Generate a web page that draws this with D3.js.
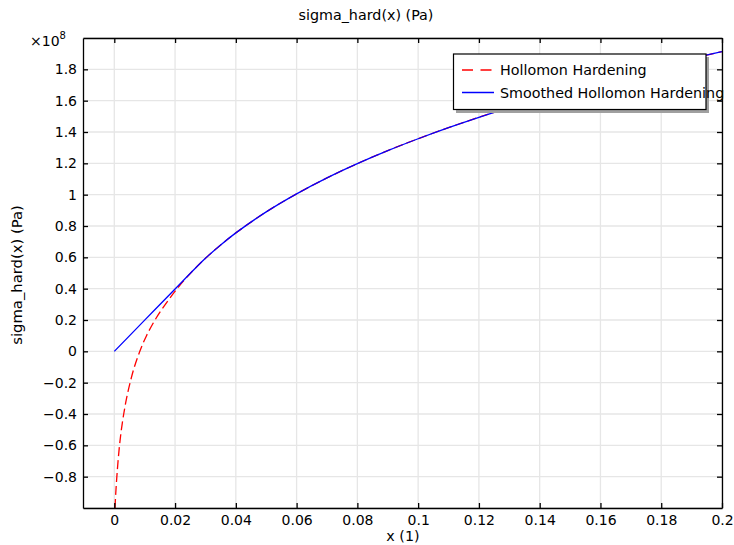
<!DOCTYPE html>
<html><head><meta charset="utf-8">
<script src="https://cdn.jsdelivr.net/npm/d3@7"></script>
<style>
body{margin:0;background:#fff;}
text{font-family:"DejaVu Sans",sans-serif;fill:#000;}
</style></head>
<body>
<svg id="c" width="734" height="545"></svg>
<script>
// x values (1) and sigma_hard values in units of 1e8 Pa
const hollomonX = [0.00023,0.0005,0.00084,0.00124,0.00172,0.00233,0.0031,0.00403,0.0052,0.0066,0.0084,0.0106,0.0134,0.0168,0.02066,0.025,0.03,0.035,0.04,0.05,0.06,0.07,0.08,0.09,0.1,0.11,0.12,0.13,0.14,0.15,0.16,0.17,0.18,0.19,0.2];
const hollomonY = [-1.0,-0.9,-0.8,-0.7,-0.6,-0.5,-0.4,-0.3,-0.2,-0.1,0.0,0.1,0.2,0.3,0.4,0.497,0.594,0.679,0.756,0.89,1.005,1.107,1.198,1.281,1.357,1.428,1.494,1.556,1.615,1.671,1.724,1.774,1.822,1.869,1.913];
const smoothX = [0,0.01,0.02,0.0265,0.03,0.035,0.04,0.05,0.06,0.07,0.08,0.09,0.1,0.11,0.12,0.13,0.14,0.15,0.16,0.17,0.18,0.19,0.2];
const smoothY = [0,0.199,0.398,0.527,0.594,0.679,0.756,0.89,1.005,1.107,1.198,1.281,1.357,1.428,1.494,1.556,1.615,1.671,1.724,1.774,1.822,1.869,1.913];
const xTicks = [0,0.02,0.04,0.06,0.08,0.1,0.12,0.14,0.16,0.18,0.2];
const yTicks = [-0.8,-0.6,-0.4,-0.2,0,0.2,0.4,0.6,0.8,1,1.2,1.4,1.6,1.8];
const yGrid = [-1,-0.8,-0.6,-0.4,-0.2,0,0.2,0.4,0.6,0.8,1,1.2,1.4,1.6,1.8,2];
const seriesNames = ["Hollomon Hardening","Smoothed Hollomon Hardening"];
const seriesColors = ["#ff0000","#0000ff"];

(function(){
const svg = d3.select("#c");
const L=83, R=722, T=38, B=508;
const x = d3.scaleLinear().domain([-0.0103,0.2]).range([L,R]);
const y = d3.scaleLinear().domain([-1,2]).range([B,T]);

// grid
const g = svg.append("g");
g.selectAll(".vg").data(xTicks).enter().append("line")
 .attr("x1",d=>x(d)).attr("x2",d=>x(d)).attr("y1",T).attr("y2",B)
 .attr("stroke","#e6e6e6").attr("stroke-width",1.3);
g.selectAll(".hg").data(yGrid).enter().append("line")
 .attr("x1",L).attr("x2",R).attr("y1",d=>y(d)).attr("y2",d=>y(d))
 .attr("stroke","#e6e6e6").attr("stroke-width",1.3);

// curves
svg.append("clipPath").attr("id","cp").append("rect")
 .attr("x",L).attr("y",T).attr("width",R-L).attr("height",B-T);
const line = d3.line().x(d=>x(d[0])).y(d=>y(d[1])).curve(d3.curveCatmullRom.alpha(0.5));
const red = hollomonX.map((v,i)=>[v,hollomonY[i]]);
const blue = smoothX.map((v,i)=>[v,smoothY[i]]);
svg.append("path").attr("d",line(red)).attr("clip-path","url(#cp)")
 .attr("fill","none").attr("stroke",seriesColors[0]).attr("stroke-width",1.3).attr("stroke-dasharray","9,4");
svg.append("path").attr("d",line(blue)).attr("clip-path","url(#cp)")
 .attr("fill","none").attr("stroke",seriesColors[1]).attr("stroke-width",1.3);

// axes
const ax = svg.append("g");
ax.append("g").attr("transform",`translate(0,${B})`)
 .call(d3.axisBottom(x).tickValues(xTicks).tickSizeInner(-5).tickSizeOuter(0).tickPadding(7).tickFormat(d=>d3.format("~g")(d)));
ax.append("g").attr("transform",`translate(0,${T})`)
 .call(d3.axisTop(x).tickValues(xTicks).tickSizeInner(-5).tickSizeOuter(0).tickFormat(""));
ax.append("g").attr("transform",`translate(${L},0)`)
 .call(d3.axisLeft(y).tickValues(yTicks).tickSizeInner(-5).tickSizeOuter(0).tickPadding(6).tickFormat(d=>d3.format("~g")(d)));
ax.append("g").attr("transform",`translate(${R},0)`)
 .call(d3.axisRight(y).tickValues(yTicks).tickSizeInner(-5).tickSizeOuter(0).tickFormat(""));
ax.selectAll(".domain").attr("stroke","#000").attr("stroke-width",1.3);
ax.selectAll(".tick line").attr("stroke","#000").attr("stroke-width",1.3);
ax.selectAll(".tick text").style("font-size","14px").style("font-family","DejaVu Sans");

// exponent label
const ex = svg.append("text").attr("x",30).attr("y",46).style("font-size","14px");
ex.append("tspan").text("×10");
ex.append("tspan").attr("dy",-7).style("font-size","10px").text("8");

// titles
svg.append("text").attr("x",366).attr("y",20).attr("text-anchor","middle").style("font-size","14.3px").text("sigma_hard(x) (Pa)");
svg.append("text").attr("x",403).attr("y",541).attr("text-anchor","middle").style("font-size","14.3px").text("x (1)");
svg.append("text").attr("transform","translate(22,275) rotate(-90)").attr("text-anchor","middle").style("font-size","14.8px").text("sigma_hard(x) (Pa)");

// legend
const lg = svg.append("g");
lg.append("rect").attr("x",456).attr("y",57).attr("width",253).attr("height",56).attr("fill","#a0a0a0");
lg.append("rect").attr("x",453.5).attr("y",54).attr("width",252.5).attr("height",55.5).attr("fill","#fff").attr("stroke","#000").attr("stroke-width",1.2);
seriesNames.forEach((n,i)=>{
  const yy = 70 + i*22.5;
  lg.append("line").attr("x1",462).attr("x2",494).attr("y1",yy).attr("y2",yy)
    .attr("stroke",seriesColors[i]).attr("stroke-width",1.5).attr("stroke-dasharray",i===0?"11,7.5":null);
  lg.append("text").attr("x",500).attr("y",yy+5).style("font-size","14.3px").text(n);
});
})();
</script>
</body></html>
